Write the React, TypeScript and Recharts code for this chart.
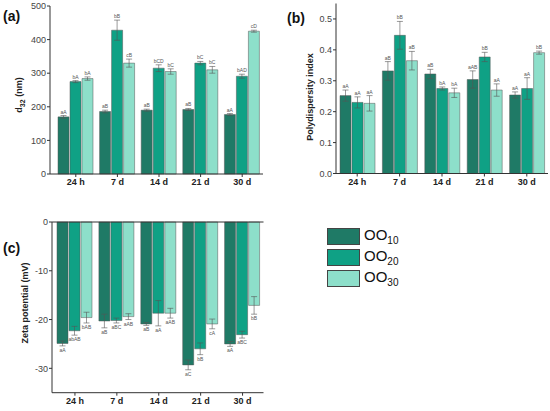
import React from 'react';
import {
  BarChart,
  Bar,
  XAxis,
  YAxis,
  ErrorBar,
  LabelList,
  ReferenceLine,
} from 'recharts';

const days = ['24 h', '7 d', '14 d', '21 d', '30 d'];

// (a) d32 (nm)
const d32OO10 = [170, 186, 190, 192, 177];
const d32OO20 = [275, 428, 315, 330, 291];
const d32OO30 = [284, 330, 305, 310, 425];
const d32Err10 = [4, 4, 3, 3, 3];
const d32Err20 = [3, 30, 10, 5, 6];
const d32Err30 = [5, 12, 8, 10, 3];
const d32Let10 = ['aA', 'aB', 'aB', 'aB', 'aA'];
const d32Let20 = ['bA', 'bB', 'bCD', 'bC', 'bAD'];
const d32Let30 = ['bA', 'cB', 'bC', 'bC', 'cD'];
const d32Ticks = [0, 100, 200, 300, 400, 500];

// (b) polydispersity index
const pdiOO10 = [0.252, 0.332, 0.322, 0.304, 0.254];
const pdiOO20 = [0.23, 0.447, 0.275, 0.377, 0.275];
const pdiOO30 = [0.227, 0.365, 0.261, 0.27, 0.391];
const pdiErr10 = [0.018, 0.03, 0.015, 0.028, 0.01];
const pdiErr20 = [0.018, 0.045, 0.005, 0.015, 0.035];
const pdiErr30 = [0.025, 0.03, 0.015, 0.02, 0.005];
const pdiLet10 = ['aA', 'aB', 'aB', 'aAB', 'aA'];
const pdiLet20 = ['aA', 'bB', 'bA', 'bB', 'aA'];
const pdiLet30 = ['aA', 'aB', 'bA', 'aA', 'bB'];
const pdiTicks = [0, 0.1, 0.2, 0.3, 0.4, 0.5];

// (c) zeta potential (mV)
const zetaOO10 = [-24.9, -20.3, -20.9, -29.3, -25.0];
const zetaOO20 = [-22.3, -20.2, -18.7, -26.0, -23.1];
const zetaOO30 = [-19.6, -19.4, -18.7, -20.9, -17.1];
const zetaErr10 = [0.5, 1.4, 0.3, 1.0, 0.5];
const zetaErr20 = [0.9, 0.5, 2.6, 1.2, 0.7];
const zetaErr30 = [1.1, 0.6, 1.0, 1.0, 1.8];
const zetaLet10 = ['aA', 'aB', 'aB', 'aC', 'aA'];
const zetaLet20 = ['abAB', 'aBC', 'aA', 'bB', 'aBC'];
const zetaLet30 = ['bAB', 'aAB', 'aAB', 'cA', 'bB'];
const zetaTicks = [-30, -20, -10, 0];

const series = ['OO10', 'OO20', 'OO30'];
const colors = ['#1f7a66', '#0fa185', '#8ddfca'];
const font = 'Arial, "Liberation Sans", sans-serif';

const build = (v: number[][], e: number[][], l: string[][]) =>
  days.map((day, i) => ({
    day,
    v0: v[0][i], v1: v[1][i], v2: v[2][i],
    e0: e[0][i], e1: e[1][i], e2: e[2][i],
    l0: l[0][i], l1: l[1][i], l2: l[2][i],
  }));

const d32Data = build([d32OO10, d32OO20, d32OO30], [d32Err10, d32Err20, d32Err30], [d32Let10, d32Let20, d32Let30]);
const pdiData = build([pdiOO10, pdiOO20, pdiOO30], [pdiErr10, pdiErr20, pdiErr30], [pdiLet10, pdiLet20, pdiLet30]);
const zetaData = build([zetaOO10, zetaOO20, zetaOO30], [zetaErr10, zetaErr20, zetaErr30], [zetaLet10, zetaLet20, zetaLet30]);

// letter label placed beyond the end of the error bar
const letter = (vals: number[], errs: number[], below: boolean) => (props: any) => {
  const { x, y, width, height, index, value } = props;
  const h = Math.abs(height);
  const px = h / Math.abs(vals[index]);
  const cx = x + width / 2;
  if (below) {
    const bottom = Math.max(y, y + height) + errs[index] * px;
    return (
      <text x={cx} y={bottom + 6} textAnchor="middle" fontSize={5} fill="#555" fontFamily={font}>
        {value}
      </text>
    );
  }
  const top = Math.min(y, y + height) - errs[index] * px;
  return (
    <text x={cx} y={top - 2} textAnchor="middle" fontSize={5} fill="#555" fontFamily={font}>
      {value}
    </text>
  );
};

const tickStyle = { fontSize: 9, fill: '#444', fontFamily: font };
const xTickStyle = { fontSize: 9, fill: '#222', fontWeight: 700, fontFamily: font };

const bars = (vals: number[][], errs: number[][], below: boolean) =>
  [0, 1, 2].map((k) => (
    <Bar
      key={k}
      dataKey={`v${k}`}
      name={series[k]}
      fill={colors[k]}
      stroke="#555"
      strokeWidth={0.5}
      isAnimationActive={false}
    >
      <ErrorBar dataKey={`e${k}`} width={3} stroke="#555" strokeWidth={0.6} />
      <LabelList dataKey={`l${k}`} content={letter(vals[k], errs[k], below)} />
    </Bar>
  ));

const PanelTag = ({ x, y, t }: { x: number; y: number; t: string }) => (
  <div
    style={{
      position: 'absolute',
      left: x,
      top: y,
      fontFamily: font,
      fontWeight: 700,
      fontSize: 14,
      color: '#111',
    }}
  >
    {t}
  </div>
);

const LegendRow = ({ top, color, sub }: { top: number; color: string; sub: string }) => (
  <div style={{ position: 'absolute', left: 327, top, display: 'flex', alignItems: 'center' }}>
    <div style={{ width: 31, height: 15, background: color, border: '1px solid #444' }} />
    <span style={{ marginLeft: 4, fontFamily: font, fontSize: 15, color: '#111' }}>
      OO<sub style={{ fontSize: 10 }}>{sub}</sub>
    </span>
  </div>
);

const App = () => {
  return (
    <div style={{ position: 'absolute', left: 0, top: 0, width: 550, height: 411, background: '#fff' }}>
      {/* (a) */}
      <div style={{ position: 'absolute', left: 0, top: 0 }}>
        <BarChart
          width={280}
          height={200}
          data={d32Data}
          margin={{ top: 6, right: 17, bottom: 6, left: 0 }}
          barSize={11}
          barGap={1}
        >
          <XAxis
            dataKey="day"
            height={20}
            padding={{ left: 5, right: 0 }}
            tick={xTickStyle}
            tickSize={3}
            stroke="#333"
            interval={0}
          />
          <YAxis
            width={50}
            domain={[0, 500]}
            ticks={d32Ticks}
            tick={tickStyle}
            tickSize={3}
            tickMargin={1}
            stroke="#333"
            label={{
              content: () => (
                <text
                  transform="translate(22,95) rotate(-90)"
                  textAnchor="middle"
                  fontSize={9}
                  fontWeight={700}
                  fontFamily={font}
                  fill="#222"
                >
                  d<tspan fontSize={7} dy={3}>32</tspan>
                  <tspan dy={-3}> (nm)</tspan>
                </text>
              ),
            }}
          />
          {bars([d32OO10, d32OO20, d32OO30], [d32Err10, d32Err20, d32Err30], false)}
        </BarChart>
      </div>

      {/* (b) */}
      <div style={{ position: 'absolute', left: 270, top: 0 }}>
        <BarChart
          width={280}
          height={200}
          data={pdiData}
          margin={{ top: 3.5, right: 2, bottom: 6.5, left: 0 }}
          barSize={11}
          barGap={1}
        >
          <XAxis
            dataKey="day"
            height={20}
            tick={xTickStyle}
            tickSize={3}
            stroke="#333"
            interval={0}
          />
          <YAxis
            width={66}
            domain={[0, 0.55]}
            ticks={pdiTicks}
            tickFormatter={(v: number) => v.toFixed(1)}
            tick={tickStyle}
            tickSize={3}
            tickMargin={1}
            stroke="#333"
            label={{
              content: () => (
                <text
                  transform="translate(43,97) rotate(-90)"
                  textAnchor="middle"
                  fontSize={9}
                  fontWeight={700}
                  fontFamily={font}
                  fill="#222"
                >
                  Polydispersity index
                </text>
              ),
            }}
          />
          {bars([pdiOO10, pdiOO20, pdiOO30], [pdiErr10, pdiErr20, pdiErr30], false)}
        </BarChart>
      </div>

      {/* (c) */}
      <div style={{ position: 'absolute', left: 0, top: 200 }}>
        <BarChart
          width={280}
          height={211}
          data={zetaData}
          margin={{ top: 22, right: 16.5, bottom: 2.3, left: 0 }}
          barSize={11}
          barGap={1}
        >
          <XAxis
            dataKey="day"
            height={16}
            padding={{ left: 2, right: 0 }}
            tick={xTickStyle}
            tickSize={3}
            stroke="#333"
            interval={0}
          />
          <YAxis
            width={52}
            domain={[-35, 0]}
            ticks={zetaTicks}
            tick={tickStyle}
            tickSize={3}
            tickMargin={1}
            stroke="#333"
            label={{
              content: () => (
                <text
                  transform="translate(28,103) rotate(-90)"
                  textAnchor="middle"
                  fontSize={9}
                  fontWeight={700}
                  fontFamily={font}
                  fill="#222"
                >
                  Zeta potential (mV)
                </text>
              ),
            }}
          />
          <ReferenceLine y={0} stroke="#333" strokeWidth={1} />
          {bars([zetaOO10, zetaOO20, zetaOO30], [zetaErr10, zetaErr20, zetaErr30], true)}
        </BarChart>
      </div>

      <PanelTag x={3} y={8} t="(a)" />
      <PanelTag x={287} y={10} t="(b)" />
      <PanelTag x={3} y={240} t="(c)" />

      <LegendRow top={226} color={colors[0]} sub="10" />
      <LegendRow top={247} color={colors[1]} sub="20" />
      <LegendRow top={268} color={colors[2]} sub="30" />
    </div>
  );
};

export default App;
